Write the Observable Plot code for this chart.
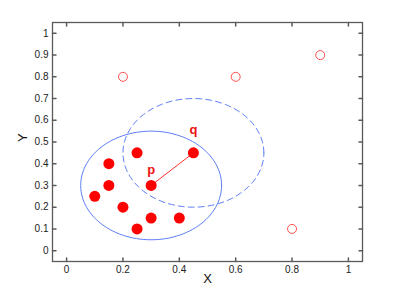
<!DOCTYPE html>
<html><head><meta charset="utf-8">
<script src="https://cdn.jsdelivr.net/npm/d3@7"></script>
<script src="https://cdn.jsdelivr.net/npm/@observablehq/plot@0.6"></script>
<style>body{margin:0;background:#fff;font-family:"Liberation Sans",Arial,sans-serif;}</style>
</head><body><div id="chart"></div>
<script>
const inX = [0.1, 0.15, 0.15, 0.2, 0.25, 0.25, 0.3, 0.3, 0.4, 0.45];
const inY = [0.25, 0.3, 0.4, 0.2, 0.1, 0.45, 0.15, 0.3, 0.15, 0.45];
const outX = [0.2, 0.6, 0.9, 0.8];
const outY = [0.8, 0.8, 0.9, 0.1];
const circleCX = [0.3, 0.45];
const circleCY = [0.3, 0.45];
const circleR = [0.25, 0.25];
const circleStyle = ["solid", "dashed"];
const segX = [0.3, 0.45];
const segY = [0.3, 0.45];
const labelText = ["p", "q"];
const labelX = [0.3, 0.45];
const labelY = [0.373, 0.557];
const xTicks = [0, 0.2, 0.4, 0.6, 0.8, 1];
const xTickLabels = ["0", "0.2", "0.4", "0.6", "0.8", "1"];
const yTicks = [0, 0.1, 0.2, 0.3, 0.4, 0.5, 0.6, 0.7, 0.8, 0.9, 1];
const yTickLabels = ["0", "0.1", "0.2", "0.3", "0.4", "0.5", "0.6", "0.7", "0.8", "0.9", "1"];

const inPts = inX.map((x, i) => ({x, y: inY[i]}));
const outPts = outX.map((x, i) => ({x, y: outY[i]}));
const angles = d3.range(0, 361, 3).map(a => a * Math.PI / 180);
const circles = circleCX.map((cx, i) => angles.map(t => ({x: cx + circleR[i] * Math.cos(t), y: circleCY[i] + circleR[i] * Math.sin(t)})));
const seg = segX.map((x, i) => ({x, y: segY[i]}));
const labels = labelText.map((t, i) => ({t, x: labelX[i], y: labelY[i]}));

const tickShape = {draw(ctx, l) { ctx.moveTo(0, 0); ctx.lineTo(0, -l); }};
const blue = "#5d7ef5";
const axisCol = "#5a5a5a";
const xFmt = d => xTickLabels[xTicks.indexOf(d)];
const yFmt = d => yTickLabels[yTicks.indexOf(d)];

const chart = Plot.plot({
  width: 399, height: 294,
  marginLeft: 52, marginTop: 22, marginRight: 37, marginBottom: 33,
  style: {fontFamily: "'Liberation Sans', Arial, sans-serif", fontSize: "10px", color: "#222", background: "#fff"},
  x: {domain: [-0.05, 1.05]},
  y: {domain: [-0.05, 1.05]},
  marks: [
    Plot.axisX(xTicks, {tickSize: 0, tickPadding: 4, tickFormat: xFmt, label: null, fontSize: 10}),
    Plot.axisY(yTicks, {tickSize: 0, tickPadding: 4, tickFormat: yFmt, label: null, fontSize: 10}),
    Plot.vector(xTicks, {x: d => d, frameAnchor: "bottom", length: 3.5, rotate: 0, anchor: "start", shape: tickShape, stroke: axisCol}),
    Plot.vector(xTicks, {x: d => d, frameAnchor: "top", length: 3.5, rotate: 180, anchor: "start", shape: tickShape, stroke: axisCol}),
    Plot.vector(yTicks, {y: d => d, frameAnchor: "left", length: 3.5, rotate: 90, anchor: "start", shape: tickShape, stroke: axisCol}),
    Plot.vector(yTicks, {y: d => d, frameAnchor: "right", length: 3.5, rotate: -90, anchor: "start", shape: tickShape, stroke: axisCol}),
    Plot.frame({stroke: axisCol, strokeWidth: 1.3}),
    ...circles.map((c, i) => Plot.line(c, {x: "x", y: "y", stroke: blue, strokeWidth: 1, strokeDasharray: circleStyle[i] === "dashed" ? "6,4" : null})),
    Plot.line(seg, {x: "x", y: "y", stroke: "#ff3030", strokeWidth: 1}),
    Plot.dot(inPts, {x: "x", y: "y", r: 5.5, fill: "#ff0000", stroke: "none"}),
    Plot.dot(outPts, {x: "x", y: "y", r: 4.5, fill: "none", stroke: "#ff5050", strokeWidth: 1}),
    Plot.text(labels, {x: "x", y: "y", text: "t", fill: "#ee1111", fontWeight: "bold", fontSize: 13}),
    Plot.text(["X"], {frameAnchor: "bottom", dy: 21, text: d => d, fontSize: 13, fill: "#111"}),
    Plot.text(["Y"], {frameAnchor: "left", dx: -30, rotate: -90, text: d => d, fontSize: 13, fill: "#111"})
  ]
});
document.getElementById("chart").appendChild(chart);
</script>
</body></html>
